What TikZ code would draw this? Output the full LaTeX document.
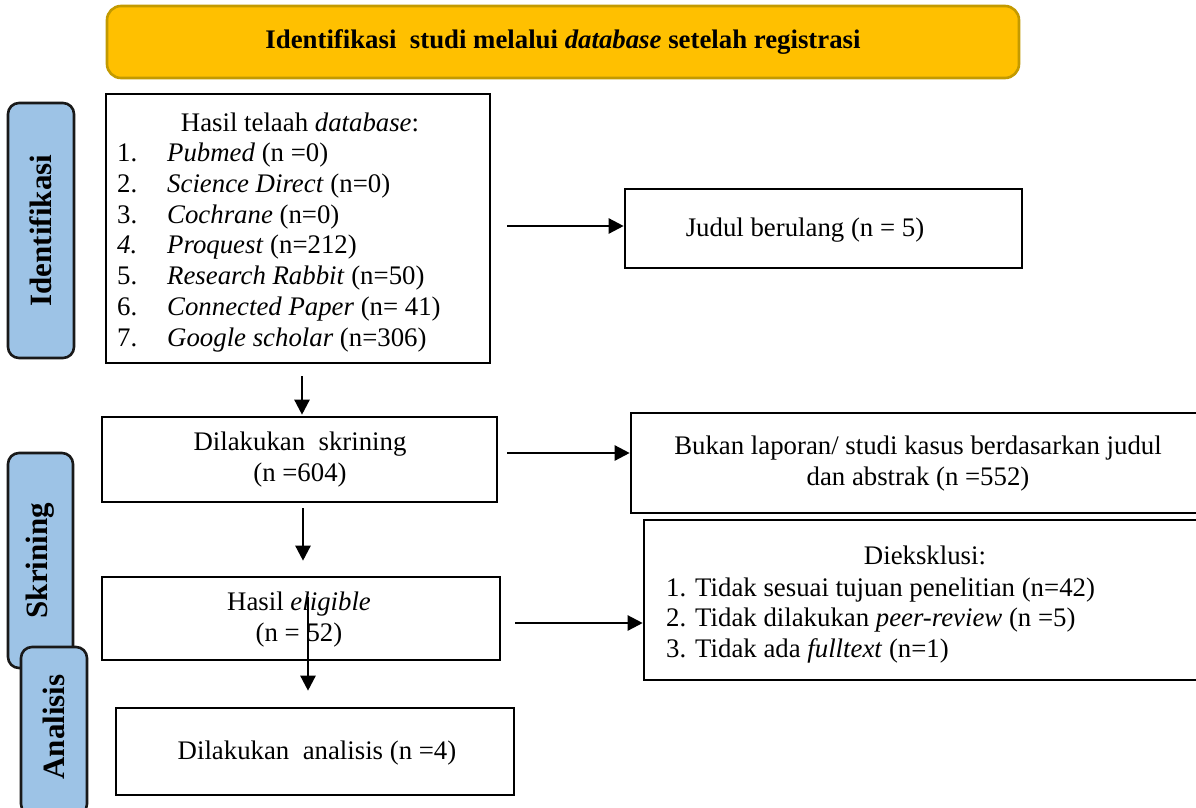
\documentclass[tikz,border=0pt]{standalone}
\usepackage{fontspec}
\setmainfont{Liberation Serif}
\usetikzlibrary{arrows.meta,fit}
\definecolor{gold}{HTML}{FFC000}
\definecolor{golddark}{HTML}{C39A00}
\definecolor{sideblue}{HTML}{9DC3E6}
\begin{document}
\begin{tikzpicture}[x=1pt,y=-1pt,
  box/.style={draw=black, line width=2.6pt, fill=white, inner sep=0pt},
  titlebox/.style={draw=golddark, line width=2.6pt, fill=gold, rounded corners=14pt, inner sep=0pt},
  sidebox/.style={draw=black!90, line width=2.6pt, fill=sideblue, rounded corners=11pt, inner sep=0pt},
  sidelabel/.style={rotate=90, font=\bfseries\fontsize{31}{33}\selectfont, inner sep=0pt},
  txt/.style={font=\fontsize{26.8}{31}\selectfont, inner sep=0pt, align=center},
  ltxt/.style={font=\fontsize{26.8}{31}\selectfont, inner sep=0pt, anchor=base west},
  arr/.style={line width=2.4pt, -{Triangle[length=15pt,width=15pt]}}
]
\useasboundingbox (0,0) rectangle (1196,807);
\clip (0,0) rectangle (1196,807);
\fill[white] (0,0) rectangle (1196,807);

% title
\node[titlebox, fit={(107,6) (1019,78)}] (title) {};
\node[txt, font=\bfseries\fontsize{26.8}{31}\selectfont] (titletxt) at (title.center)
  {Identifikasi\ \ studi melalui \textit{database} setelah registrasi};

% side boxes
\node[sidebox, fit={(8,103) (74,358)}] (sideI) {};
\node[sidelabel] (sideIt) at (sideI.center) {Identifikasi};
\node[sidebox, fit={(8,453) (73,668)}] (sideS) {};
\node[sidelabel] (sideSt) at (sideS.center) {Skrining};
\node[sidebox, fit={(21,647) (87,815)}] (sideA) {};
\node[sidelabel] (sideAt) at (54,727) {Analisis};

% main boxes
\node[box, fit={(106,94) (490,363)}] (box1) {};
\node[box, fit={(625,189) (1022,268)}] (judul) {};
\node[box, fit={(102,417) (497,502)}] (skrin) {};
\node[box, fit={(102,577) (500,660)}] (elig) {};
\node[box, fit={(116,708) (514,795)}] (anal) {};
\node[box, fit={(631,413) (1215,513)}] (bukan) {};
\node[box, fit={(644,520) (1215,680)}] (diek) {};

% box1 texts
\node[txt] (b1head) at (300,122) {Hasil telaah \textit{database}:};
\node[ltxt] (n1) at (117,161) {1.};
\node[ltxt] (n2) at (117,192) {2.};
\node[ltxt] (n3) at (117,223) {3.};
\node[ltxt] (n4) at (117,253) {\textit{4.}};
\node[ltxt] (n5) at (117,284) {5.};
\node[ltxt] (n6) at (117,315) {6.};
\node[ltxt] (n7) at (117,346) {7.};
\node[ltxt] (i1) at (167,161) {\textit{Pubmed} (n =0)};
\node[ltxt] (i2) at (167,192) {\textit{Science Direct} (n=0)};
\node[ltxt] (i3) at (167,223) {\textit{Cochrane} (n=0)};
\node[ltxt] (i4) at (167,253) {\textit{Proquest} (n=212)};
\node[ltxt] (i5) at (167,284) {\textit{Research Rabbit} (n=50)};
\node[ltxt] (i6) at (167,315) {\textit{Connected Paper} (n= 41)};
\node[ltxt] (i7) at (167,346) {\textit{Google scholar} (n=306)};

% other texts
\node[txt] (judult) at (805,230) {Judul berulang (n = 5)};
\node[txt] (skrint) at (300,460) {Dilakukan\ \ skrining\\(n =604)};
\node[txt] (eligt) at (299,620) {Hasil \textit{eligible}\\(n = 52)};
\node[txt] (analt) at (317,753) {Dilakukan\ \ analisis (n =4)};
\node[txt] (bukant) at (918,464) {Bukan laporan/ studi kasus berdasarkan judul\\dan abstrak (n =552)};
\node[txt] (diekh) at (925,555) {Dieksklusi:};
\node[ltxt] (d1) at (666,596) {1. Tidak sesuai tujuan penelitian (n=42)};
\node[ltxt] (d2) at (666,626) {2. Tidak dilakukan \textit{peer-review} (n =5)};
\node[ltxt] (d3) at (666,657) {3. Tidak ada \textit{fulltext} (n=1)};

% helper coordinates
\coordinate (ya) at (0,226);
\coordinate (yb) at (0,453);
\coordinate (yc) at (0,623);
\coordinate (xa) at (302,0);
\coordinate (xb) at (303,0);
\coordinate (s4) at (308,597);

% arrows
\draw[arr, shorten <=16pt] (box1.east |- ya) -- (judul.west |- ya);
\draw[arr, shorten <=12pt, shorten >=1pt] (box1.south -| xa) -- (skrin.north -| xa);
\draw[arr, shorten <=5pt, shorten >=15pt] (skrin.south -| xb) -- (elig.north -| xb);
\draw[arr, shorten <=9pt] (skrin.east |- yb) -- (bukan.west |- yb);
\draw[arr, shorten <=14pt] (elig.east |- yc) -- (diek.west |- yc);
\draw[arr, shorten >=16pt] (s4) -- (anal.north -| s4);
\end{tikzpicture}
\end{document}
